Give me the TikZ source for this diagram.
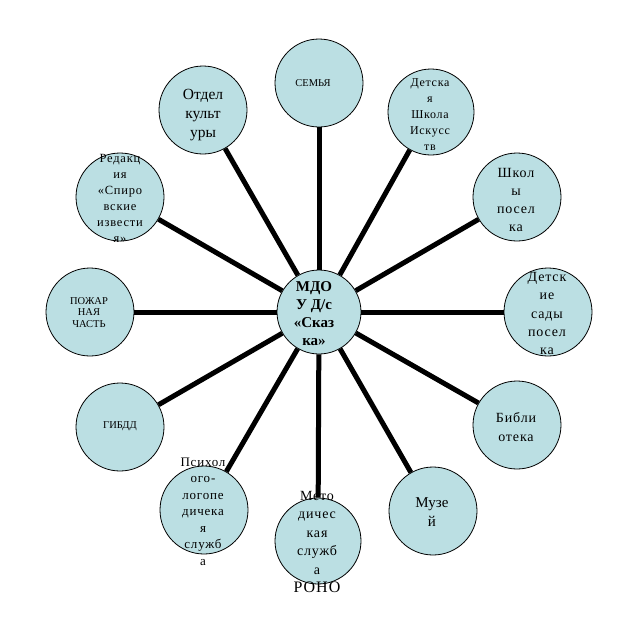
\documentclass[tikz,border=0pt]{standalone}
\usepackage{fontspec}
\setmainfont{Liberation Serif}
\newfontfamily\lsfont[LetterSpace=6]{Liberation Serif}
\usetikzlibrary{backgrounds}
\definecolor{cfill}{HTML}{BBDFE3}
\tikzset{
  x=1pt, y=-1pt,
  bubble/.style={circle, draw=black, line width=0.8pt, fill=cfill, minimum size=88pt, inner sep=0pt},
  hub/.style={bubble, minimum size=84pt},
  conn/.style={line width=5pt, black},
  lbl/.style={align=center, inner sep=0pt, text=black}
}
\begin{document}
\begin{tikzpicture}
\useasboundingbox (0,0) rectangle (637,625);
% circles
\node[hub] (c) at (319,312) {};
\node[bubble] (o1) at (319,83) {};
\node[bubble, minimum size=86pt] (o2) at (431,112) {};
\node[bubble] (o3) at (517,197) {};
\node[bubble] (o4) at (548,312) {};
\node[bubble] (o5) at (517,425) {};
\node[bubble] (o6) at (433,511) {};
\node[bubble, minimum size=86pt] (o7) at (318,541) {};
\node[bubble] (o8) at (204,510) {};
\node[bubble] (o9) at (120,427) {};
\node[bubble] (o10) at (90,312) {};
\node[bubble] (o11) at (120,197) {};
\node[bubble] (o12) at (203,110) {};
% connectors
\begin{pgfonlayer}{background}
\foreach \k in {1,...,12} {\draw[conn] (c) -- (o\k);}
\end{pgfonlayer}
% texts
\node[lbl, font=\bfseries\fontsize{15}{18}\selectfont] (t0) at (314,314) {МДО\\У Д/с\\«Сказ\\ка»};
\node[lbl, font=\fontsize{10.5}{12}\selectfont] (t1) at (313,83) {СЕМЬЯ};
\node[lbl, font=\lsfont\fontsize{12}{16}\selectfont] (t2) at (430,115) {Детска\\я\\Школа\\Искусс\\тв};
\node[lbl, font=\lsfont\fontsize{14}{18.3}\selectfont] (t3) at (516,200) {Школ\\ы\\посел\\ка};
\node[lbl, font=\lsfont\fontsize{14}{18.3}\selectfont] (t4) at (547,313.5) {Детск\\ие\\сады\\посел\\ка};
\node[lbl, font=\lsfont\fontsize{14}{19}\selectfont] (t5) at (516,427.5) {Библи\\отека};
\node[lbl, font=\fontsize{15}{19}\selectfont] (t6) at (432,512.5) {Музе\\й};
\node[lbl, font=\lsfont\fontsize{14}{18.4}\selectfont] (t7) at (317,542) {Мето\\дичес\\кая\\служб\\а\\{\fontsize{16}{18.4}\selectfont РОНО}};
\node[lbl, font=\lsfont\fontsize{13}{16.5}\selectfont] (t8) at (203,511.5) {Психол\\ого-\\логопе\\дичека\\я\\служб\\а};
\node[lbl, font=\fontsize{10.5}{12}\selectfont] (t9) at (120,426) {ГИБДД};
\node[lbl, font=\fontsize{10.5}{11.5}\selectfont] (t10) at (89,312.5) {ПОЖАР\\НАЯ\\ЧАСТЬ};
\node[lbl, font=\lsfont\fontsize{12.5}{16}\selectfont] (t11) at (120,198) {Редакц\\ия\\«Спиро\\вские\\извести\\я»};
\node[lbl, font=\fontsize{15.5}{19}\selectfont] (t12) at (203,115.5) {Отдел\\культ\\уры};
\end{tikzpicture}
\end{document}
